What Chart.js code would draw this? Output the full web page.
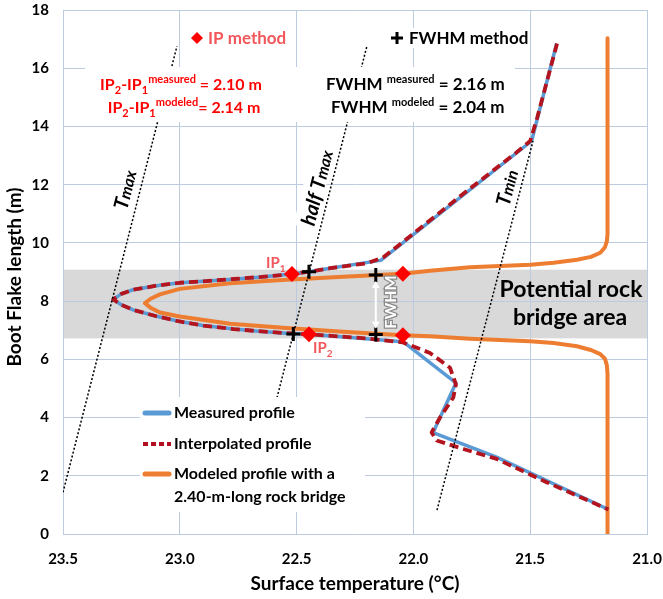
<!DOCTYPE html>
<html>
<head>
<meta charset="utf-8">
<script src="https://cdn.jsdelivr.net/npm/chart.js@4/dist/chart.umd.min.js"></script>
<style>
html,body{margin:0;padding:0;background:#fff;}
#wrap{width:663px;height:599px;}
</style>
</head>
<body>
<div id="wrap"><canvas id="c" width="663" height="599"></canvas></div>
<script>
// ---- data (temperature °C, length m) ----
const xTicks = [21.0, 21.5, 22.0, 22.5, 23.0, 23.5];
const yTicks = [0, 2, 4, 6, 8, 10, 12, 14, 16, 18];
const bridgeZone = [6.72, 9.08];

const measuredT = [21.387, 21.494, 22.140, 22.357, 22.447, 22.52, 22.65, 22.77, 22.9, 23.0, 23.1, 23.2, 23.25, 23.285, 23.25, 23.2, 23.1, 23.0, 22.9, 22.77, 22.65, 22.543, 22.447, 22.043, 21.818, 21.916, 21.644, 21.167];
const measuredL = [16.84, 13.5, 9.40, 9.13, 9.01, 8.93, 8.83, 8.75, 8.68, 8.63, 8.53, 8.39, 8.25, 8.06, 7.87, 7.70, 7.48, 7.30, 7.16, 7.04, 6.96, 6.90, 6.86, 6.60, 5.19, 3.48, 2.64, 0.85];

const interpT = [21.385, 21.43, 21.47, 21.50, 21.56, 21.80, 22.05, 22.13, 22.20, 22.357, 22.447, 22.52, 22.65, 22.77, 22.9, 23.0, 23.1, 23.2, 23.25, 23.285, 23.25, 23.2, 23.1, 23.0, 22.9, 22.77, 22.65, 22.543, 22.447, 22.2, 22.045, 21.929, 21.843, 21.818, 21.829, 21.886, 21.922, 21.90, 21.786, 21.644, 21.43, 21.165];
const interpL = [16.85, 15.5, 14.3, 13.5, 13.1, 11.6, 10.0, 9.50, 9.30, 9.13, 9.01, 8.93, 8.83, 8.76, 8.68, 8.63, 8.53, 8.39, 8.25, 8.06, 7.87, 7.70, 7.48, 7.30, 7.16, 7.04, 6.96, 6.90, 6.86, 6.72, 6.58, 6.22, 5.71, 5.14, 4.69, 4.00, 3.49, 3.21, 2.92, 2.58, 1.78, 0.84];

const modeledT = [21.169, 21.169, 21.172, 21.18, 21.2, 21.24, 21.3, 21.4, 21.5, 21.758, 21.929, 22.045, 22.3, 22.543, 22.785, 23.0, 23.085, 23.125, 23.149, 23.125, 23.085, 23.0, 22.785, 22.543, 22.3, 22.045, 21.929, 21.758, 21.5, 21.4, 21.3, 21.24, 21.2, 21.18, 21.172, 21.169, 21.169];
const modeledL = [17.03, 10.3, 10.05, 9.85, 9.66, 9.52, 9.42, 9.32, 9.25, 9.16, 9.04, 8.94, 8.84, 8.73, 8.61, 8.42, 8.23, 8.08, 7.93, 7.77, 7.61, 7.47, 7.22, 7.08, 6.95, 6.83, 6.79, 6.71, 6.62, 6.56, 6.45, 6.32, 6.18, 6.02, 5.80, 5.50, 0];

const tmaxT = [23.5, 23.012];     const tmaxL = [1.43, 16.76];
const halfT = [22.584, 22.199];   const halfL = [4.68, 16.76];
const tminT = [21.899, 21.488];   const tminL = [0.82, 13.5];

const ipMeasT = [22.52, 22.447];  const ipMeasL = [8.93, 6.86];
const ipModT = [22.045, 22.045];  const ipModL = [8.94, 6.83];
const fwMeasT = [22.447, 22.514]; const fwMeasL = [9.01, 6.87];
const fwModT = [22.161, 22.161];  const fwModL = [8.90, 6.85];

const legendLabels = ['Measured profile', 'Interpolated profile', 'Modeled profile with a', '2.40-m-long rock bridge'];

const pts = (xs, ys) => xs.map((x, i) => ({x: x, y: ys[i]}));

const FONT = 'Lato, "Open Sans", "Liberation Sans", sans-serif';
const BLUE = '#5b9bd5', DRED = '#b01020', ORANGE = '#ed7d31', RED = '#ff0000', SALMON = '#f2575c';

function rich(ctx, x, y, runs, align) {
  let total = 0;
  runs.forEach(r => { ctx.font = r.font; r.w = ctx.measureText(r.t).width; total += r.w; });
  let sx = align === 'center' ? x - total / 2 : (align === 'right' ? x - total : x);
  ctx.textAlign = 'left';
  ctx.textBaseline = 'alphabetic';
  runs.forEach(r => {
    ctx.font = r.font; ctx.fillStyle = r.color || '#000';
    ctx.fillText(r.t, sx, y + (r.dy || 0));
    sx += r.w;
  });
  return total;
}

const deco = {
  id: 'deco',
  beforeDraw(chart) {
    const {ctx, chartArea: a, scales: {y}} = chart;
    const y1 = y.getPixelForValue(bridgeZone[1]), y0 = y.getPixelForValue(bridgeZone[0]);
    ctx.save();
    ctx.fillStyle = '#d9d9d9';
    ctx.fillRect(a.left, y1, a.right - a.left, y0 - y1);
    ctx.restore();
  },
  afterDatasetsDraw(chart) {
    const {ctx, scales: {x, y}} = chart;
    ctx.save();
    // white boxes behind annotations
    ctx.fillStyle = '#fff';
    ctx.fillRect(85, 67, 430, 55);
    ctx.fillRect(190, 28, 105, 20);
    ctx.fillRect(388, 28, 140, 20);
    ctx.fillRect(140, 397, 225, 115);

    const B = s => 'bold ' + s + 'px ' + FONT;
    // IP method legend-ish
    ctx.fillStyle = RED;
    ctx.beginPath();
    ctx.moveTo(197, 32); ctx.lineTo(203, 38); ctx.lineTo(197, 44); ctx.lineTo(191, 38); ctx.closePath(); ctx.fill();
    rich(ctx, 208, 44, [{t: 'IP method', font: B(17), color: SALMON}], 'left');
    // FWHM method
    ctx.strokeStyle = '#000'; ctx.lineWidth = 3;
    ctx.beginPath(); ctx.moveTo(391, 38); ctx.lineTo(403, 38); ctx.moveTo(397, 32); ctx.lineTo(397, 44); ctx.stroke();
    rich(ctx, 409, 44, [{t: 'FWHM method', font: B(17), color: '#000'}], 'left');

    // IP text
    rich(ctx, 181, 90, [
      {t: 'IP', font: B(16), color: RED}, {t: '2', font: B(11), color: RED, dy: 4},
      {t: '-IP', font: B(16), color: RED}, {t: '1', font: B(11), color: RED, dy: 4},
      {t: 'measured', font: B(11), color: RED, dy: -7},
      {t: ' = 2.10 m', font: B(16), color: RED}], 'center');
    rich(ctx, 184, 113, [
      {t: 'IP', font: B(16), color: RED}, {t: '2', font: B(11), color: RED, dy: 4},
      {t: '-IP', font: B(16), color: RED}, {t: '1', font: B(11), color: RED, dy: 4},
      {t: 'modeled', font: B(11), color: RED, dy: -7},
      {t: '= 2.14 m', font: B(16), color: RED}], 'center');
    // FWHM text
    rich(ctx, 326, 90, [
      {t: 'FWHM ', font: B(17)}, {t: 'measured', font: B(11), dy: -7}, {t: ' = 2.16 m', font: B(17)}], 'left');
    rich(ctx, 331, 113, [
      {t: 'FWHM ', font: B(17)}, {t: 'modeled', font: B(11), dy: -7}, {t: ' = 2.04 m', font: B(17)}], 'left');

    // rotated labels
    const ang = -Math.PI / 2 + Math.atan(0.2535);
    function rotLabel(cx, cy, runs, bg) {
      ctx.save();
      ctx.translate(cx, cy); ctx.rotate(ang);
      let total = 0;
      runs.forEach(r => { ctx.font = r.font; total += ctx.measureText(r.t).width; });
      if (bg) { ctx.fillStyle = '#fff'; ctx.fillRect(-total / 2 - 3, -15, total + 6, 22); }
      rich(ctx, 0, 6, runs, 'center');
      ctx.restore();
    }
    const I = s => 'italic bold ' + s + 'px ' + FONT;
    rotLabel(126, 190, [{t: 'T', font: I(20)}, {t: 'max', font: I(16)}], false);
    rotLabel(318, 188, [{t: 'half T', font: I(20)}, {t: 'max', font: I(16)}], true);
    rotLabel(508, 188, [{t: 'T', font: I(20)}, {t: 'min', font: I(16)}], false);

    // IP labels
    rich(ctx, 266, 268, [{t: 'IP', font: B(15), color: SALMON}, {t: '1', font: B(10), color: SALMON, dy: 4}], 'left');
    rich(ctx, 313, 353, [{t: 'IP', font: B(15), color: SALMON}, {t: '2', font: B(10), color: SALMON, dy: 4}], 'left');

    // FWHM arrow
    const ax = x.getPixelForValue(fwModT[0]);
    const ya = y.getPixelForValue(fwModL[0]) + 6, yb = y.getPixelForValue(fwModL[1]) - 6;
    ctx.strokeStyle = '#fff'; ctx.fillStyle = '#fff'; ctx.lineWidth = 2;
    ctx.beginPath(); ctx.moveTo(ax, ya + 5); ctx.lineTo(ax, yb - 5); ctx.stroke();
    ctx.beginPath(); ctx.moveTo(ax, ya); ctx.lineTo(ax - 4, ya + 7); ctx.lineTo(ax + 4, ya + 7); ctx.closePath(); ctx.fill();
    ctx.beginPath(); ctx.moveTo(ax, yb); ctx.lineTo(ax - 4, yb - 7); ctx.lineTo(ax + 4, yb - 7); ctx.closePath(); ctx.fill();
    ctx.save();
    ctx.translate(391, 302); ctx.rotate(-Math.PI / 2);
    ctx.font = B(16); ctx.textAlign = 'center'; ctx.textBaseline = 'middle';
    ctx.lineWidth = 2.5; ctx.strokeStyle = '#8a8a8a'; ctx.strokeText('FWHM', 0, 0);
    ctx.fillStyle = '#fff'; ctx.fillText('FWHM', 0, 0);
    ctx.restore();

    // Potential rock bridge area
    ctx.textAlign = 'center'; ctx.textBaseline = 'middle'; ctx.fillStyle = '#000';
    ctx.font = B(23);
    ctx.fillText('Potential rock', 571, 290);
    ctx.fillText('bridge area', 570, 318);

    // legend
    ctx.lineCap = 'round';
    ctx.strokeStyle = BLUE; ctx.lineWidth = 5; ctx.setLineDash([]);
    ctx.beginPath(); ctx.moveTo(145, 413); ctx.lineTo(169, 413); ctx.stroke();
    ctx.lineCap = 'butt';
    ctx.strokeStyle = DRED; ctx.lineWidth = 4; ctx.setLineDash([5, 3]);
    ctx.beginPath(); ctx.moveTo(143, 444); ctx.lineTo(171, 444); ctx.stroke();
    ctx.setLineDash([]); ctx.lineCap = 'round';
    ctx.strokeStyle = ORANGE; ctx.lineWidth = 5;
    ctx.beginPath(); ctx.moveTo(145, 474); ctx.lineTo(169, 474); ctx.stroke();
    ctx.textAlign = 'left'; ctx.textBaseline = 'middle'; ctx.fillStyle = '#000';
    ctx.font = B(16);
    ctx.fillText(legendLabels[0], 174, 413);
    ctx.fillText(legendLabels[1], 174, 444);
    ctx.fillText(legendLabels[2], 174, 474);
    ctx.fillText(legendLabels[3], 174, 497);

    ctx.restore();
  },
  afterDraw(chart) {
    const {ctx} = chart;
    ctx.save();
    ctx.fillStyle = '#000';
    ctx.font = 'bold 19px ' + FONT;
    ctx.textAlign = 'center'; ctx.textBaseline = 'middle';
    ctx.fillText('Surface temperature (°C)', 355, 584);
    ctx.translate(15, 277); ctx.rotate(-Math.PI / 2);
    ctx.fillText('Boot Flake length (m)', 0, 0);
    ctx.restore();
  }
};

const lineDs = (label, data, color, width, dash, order) => ({
  label, data, showLine: true, borderColor: color, backgroundColor: color,
  borderWidth: width, borderDash: dash, pointRadius: 0, pointHoverRadius: 0, tension: 0, order,
  borderJoinStyle: 'round'
});

new Chart(document.getElementById('c'), {
  type: 'scatter',
  data: {
    datasets: [
      {label: 'IP measured', data: pts(ipMeasT, ipMeasL), pointStyle: 'rectRot', pointRadius: 8, backgroundColor: RED, borderColor: RED, borderWidth: 0, order: 0},
      {label: 'IP modeled', data: pts(ipModT, ipModL), pointStyle: 'rectRot', pointRadius: 8, backgroundColor: RED, borderColor: RED, borderWidth: 0, order: 0},
      {label: 'FWHM measured', data: pts(fwMeasT, fwMeasL), pointStyle: 'cross', pointRadius: 7, borderColor: '#000', borderWidth: 3, order: 0},
      {label: 'FWHM modeled', data: pts(fwModT, fwModL), pointStyle: 'cross', pointRadius: 7, borderColor: '#000', borderWidth: 3, order: 0},
      lineDs('Tmax', pts(tmaxT, tmaxL), '#000', 1.5, [2, 2], 1),
      lineDs('half Tmax', pts(halfT, halfL), '#000', 1.5, [2, 2], 1),
      lineDs('Tmin', pts(tminT, tminL), '#000', 1.5, [2, 2], 1),
      lineDs('Interpolated profile', pts(interpT, interpL), '#b3141e', 3.8, [9, 5], 2),
      lineDs('Measured profile', pts(measuredT, measuredL), BLUE, 3.5, [], 3),
      lineDs('Modeled profile', pts(modeledT, modeledL), ORANGE, 4, [], 4)
    ]
  },
  options: {
    responsive: false,
    animation: false,
    events: [],
    layout: {padding: {left: 0, right: 16, top: 7, bottom: 0}},
    plugins: {legend: {display: false}, tooltip: {enabled: false}},
    scales: {
      x: {
        type: 'linear', reverse: true, min: 21, max: 23.5,
        afterBuildTicks: s => { s.ticks = xTicks.map(v => ({value: v})); },
        afterFit: s => { s.height = 65; s.paddingLeft = 0; s.paddingRight = 0; },
        grid: {color: '#bccbdd', lineWidth: 1, drawTicks: false},
        border: {color: '#bccbdd'},
        ticks: {padding: 16, color: '#000', font: {family: FONT, size: 15, weight: 'bold'}, callback: v => Number(v).toFixed(1)}
      },
      y: {
        type: 'linear', min: 0, max: 18,
        afterBuildTicks: s => { s.ticks = yTicks.map(v => ({value: v})); },
        afterFit: s => { s.width = 63; s.paddingTop = 0; s.paddingBottom = 0; },
        grid: {color: '#bccbdd', lineWidth: 1, drawTicks: false},
        border: {color: '#bccbdd'},
        ticks: {padding: 14, color: '#000', font: {family: FONT, size: 15, weight: 'bold'}}
      }
    }
  },
  plugins: [deco]
});
</script>
</body>
</html>
